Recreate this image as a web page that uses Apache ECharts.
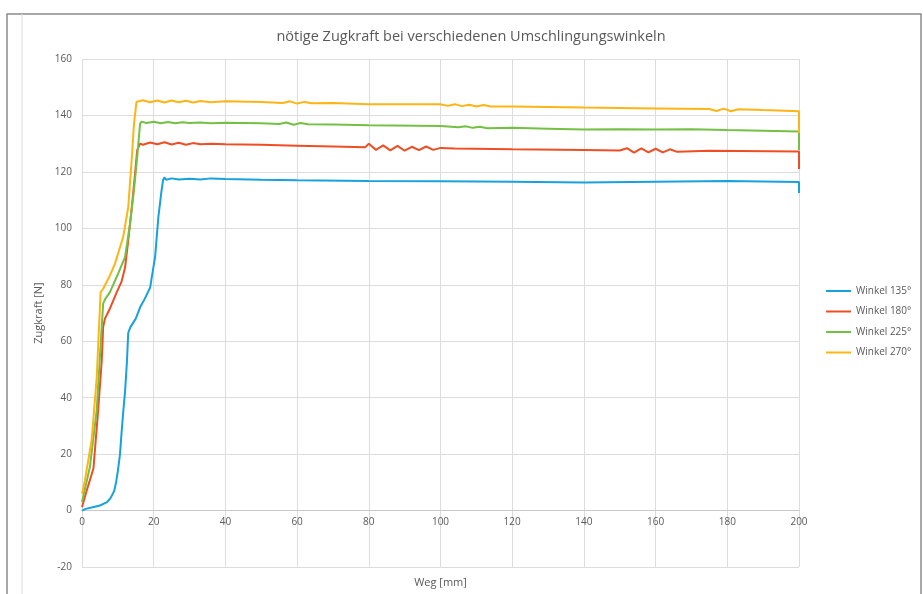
<!DOCTYPE html>
<html>
<head>
<meta charset="utf-8">
<script src="https://cdn.jsdelivr.net/npm/echarts@6/dist/echarts.min.js"></script>
<style>
  html, body { margin: 0; padding: 0; background: #fff; }
  #main { width: 923px; height: 594px; }
</style>
</head>
<body>
<div id="main"></div>
<script>
// Weg [mm] / Zugkraft [N]
var weg135 = [0, 1, 3, 5, 7, 8, 9, 9.5, 10, 10.6, 11, 11.5, 12, 12.5, 12.9, 13.5, 15, 16.2, 17.5, 19, 20.4, 21.3, 22.2, 22.6, 22.9, 23.5, 25, 27, 30, 33, 36, 40, 50, 60, 80, 100, 120, 140, 160, 180, 200, 200];
var kraft135 = [0, 0.6, 1.2, 1.8, 3, 4.5, 7, 10, 14, 20, 27, 35, 42, 52, 63, 65, 68, 72, 75, 79, 90, 104, 113.5, 117, 118, 117.2, 117.7, 117.3, 117.6, 117.3, 117.7, 117.5, 117.2, 117, 116.8, 116.7, 116.5, 116.2, 116.5, 116.8, 116.4, 112.5];

var weg180 = [0, 1.3, 3.2, 4.5, 5.5, 5.9, 6.4, 7.8, 9.7, 11, 12, 12.9, 13.9, 14.8, 15.4, 16.2, 17, 19, 21, 23, 25, 27, 29, 31, 33, 36, 40, 50, 60, 70, 79, 80, 82, 84, 86, 88, 90, 92, 94, 96, 98, 100, 104, 120, 140, 150, 152, 154, 156, 158, 160, 162, 164, 166, 175, 200, 200];
var kraft180 = [1.2, 7, 15, 35.5, 53, 65, 68, 71.6, 77.4, 81, 86, 95.7, 107.5, 119.4, 127.7, 130, 129.6, 130.4, 129.8, 130.5, 129.7, 130.3, 129.6, 130.2, 129.8, 130, 129.8, 129.6, 129.3, 129, 128.7, 130, 127.8, 129.4, 127.6, 129.2, 127.5, 128.9, 127.7, 129, 127.8, 128.5, 128.3, 128, 127.8, 127.6, 128.4, 126.8, 128.3, 126.9, 128.2, 126.9, 128, 127.1, 127.5, 127.2, 121];

var weg225 = [0, 2.2, 4.1, 5.5, 5.9, 6.5, 7.8, 10.1, 12, 13.4, 14.5, 15.4, 16.2, 16.6, 18, 20, 22, 24, 26, 28, 30, 33, 36, 40, 50, 55, 57, 59, 61, 63, 70, 80, 100, 105, 107, 109, 111, 113, 120, 130, 140, 150, 160, 170, 180, 200, 200];
var kraft225 = [3, 15.4, 35.5, 65, 73.3, 75, 77.4, 84, 89.8, 101.7, 113.5, 125.3, 137, 137.8, 137.3, 137.8, 137.2, 137.7, 137.2, 137.6, 137.3, 137.5, 137.2, 137.4, 137.2, 137, 137.5, 136.7, 137.3, 136.9, 136.8, 136.5, 136.3, 135.8, 136.2, 135.6, 136, 135.5, 135.6, 135.3, 135, 135.1, 135, 135.1, 134.8, 134.3, 127.7];

var weg270 = [0, 0.8, 2.7, 4.1, 5, 5.2, 5.9, 6.4, 7.8, 9.2, 11.5, 12.9, 13.9, 14.5, 15.2, 17, 19, 21, 23, 25, 27, 29, 31, 33, 36, 40, 50, 56, 58, 60, 62, 64, 70, 80, 100, 102, 104, 106, 108, 110, 112, 114, 120, 140, 160, 175, 177, 179, 181, 183, 190, 200, 200];
var kraft270 = [6, 10.6, 25, 47, 72, 77.4, 78.6, 79, 83.3, 87.5, 97, 107.5, 125, 137, 144.8, 145.4, 144.7, 145.3, 144.6, 145.3, 144.7, 145.2, 144.6, 145.1, 144.7, 145, 144.8, 144.4, 145, 144.2, 144.8, 144.3, 144.4, 144, 144, 143.4, 144, 143.3, 143.8, 143.2, 143.7, 143.2, 143.2, 142.8, 142.5, 142.3, 141.6, 142.4, 141.5, 142.2, 141.9, 141.5, 133.8];

var serienNamen = ['Winkel 135°', 'Winkel 180°', 'Winkel 225°', 'Winkel 270°'];
var farben = ['#17a1dd', '#ef4e24', '#74c045', '#fdb515'];

function paare(xs, ys) {
  return xs.map(function (x, i) { return [x, ys[i]]; });
}

var daten = [paare(weg135, kraft135), paare(weg180, kraft180), paare(weg225, kraft225), paare(weg270, kraft270)];

var myChart = echarts.init(document.getElementById('main'));
var grau = '#595959';

var option = {
  backgroundColor: '#fff',
  animation: false,
  title: {
    text: 'nötige Zugkraft bei verschiedenen Umschlingungswinkeln',
    left: 466,
    top: 24,
    textAlign: 'center',
    textStyle: { color: grau, fontSize: 14.5, fontWeight: 'normal', fontFamily: 'Open Sans' }
  },
  graphic: [
    {
      type: 'rect',
      shape: { x: 7, y: 14, width: 914, height: 600 },
      style: { fill: null, stroke: '#8c8c8c', lineWidth: 1.5 }
    },
    {
      type: 'line',
      shape: { x1: 22, y1: 14, x2: 22, y2: 594 },
      style: { stroke: '#d9d9d9', lineWidth: 1 }
    }
  ],
  legend: {
    data: serienNamen,
    orient: 'vertical',
    left: 821,
    top: 281,
    icon: 'rect',
    itemWidth: 25,
    itemHeight: 2,
    itemGap: 10.5,
    textStyle: { color: grau, fontSize: 10, fontFamily: 'Open Sans' }
  },
  grid: { left: 82, right: 124, top: 59, bottom: 27, outerBoundsMode: 'none', containLabel: false },
  xAxis: {
    type: 'value',
    min: 0,
    max: 200,
    interval: 20,
    offset: -56.4, // Achse liegt bei Zugkraft 0
    name: 'Weg [mm]',
    nameLocation: 'middle',
    nameGap: 67,
    nameTextStyle: { color: grau, fontSize: 11, fontFamily: 'Open Sans' },
    axisLine: { show: true, onZero: false, lineStyle: { color: '#c8c8c8', width: 1 } },
    axisTick: { show: false },
    axisLabel: { color: grau, fontSize: 10, fontFamily: 'Open Sans', margin: 7 },
    splitLine: { show: true, lineStyle: { color: '#dcdcdc', width: 1 } }
  },
  yAxis: {
    type: 'value',
    min: -20,
    max: 160,
    interval: 20,
    name: 'Zugkraft [N]',
    nameLocation: 'middle',
    nameGap: 31,
    nameTextStyle: { color: grau, fontSize: 11, fontFamily: 'Open Sans' },
    axisLine: { show: false },
    axisTick: { show: false },
    axisLabel: { color: grau, fontSize: 10, fontFamily: 'Open Sans', margin: 10 },
    splitLine: { show: true, lineStyle: { color: '#dcdcdc', width: 1 } }
  },
  series: serienNamen.map(function (name, i) {
    return {
      name: name,
      type: 'line',
      data: daten[i],
      symbol: 'none',
      smooth: false,
      color: farben[i],
      lineStyle: { width: 2, color: farben[i] }
    };
  })
};

myChart.setOption(option);
</script>
</body>
</html>
